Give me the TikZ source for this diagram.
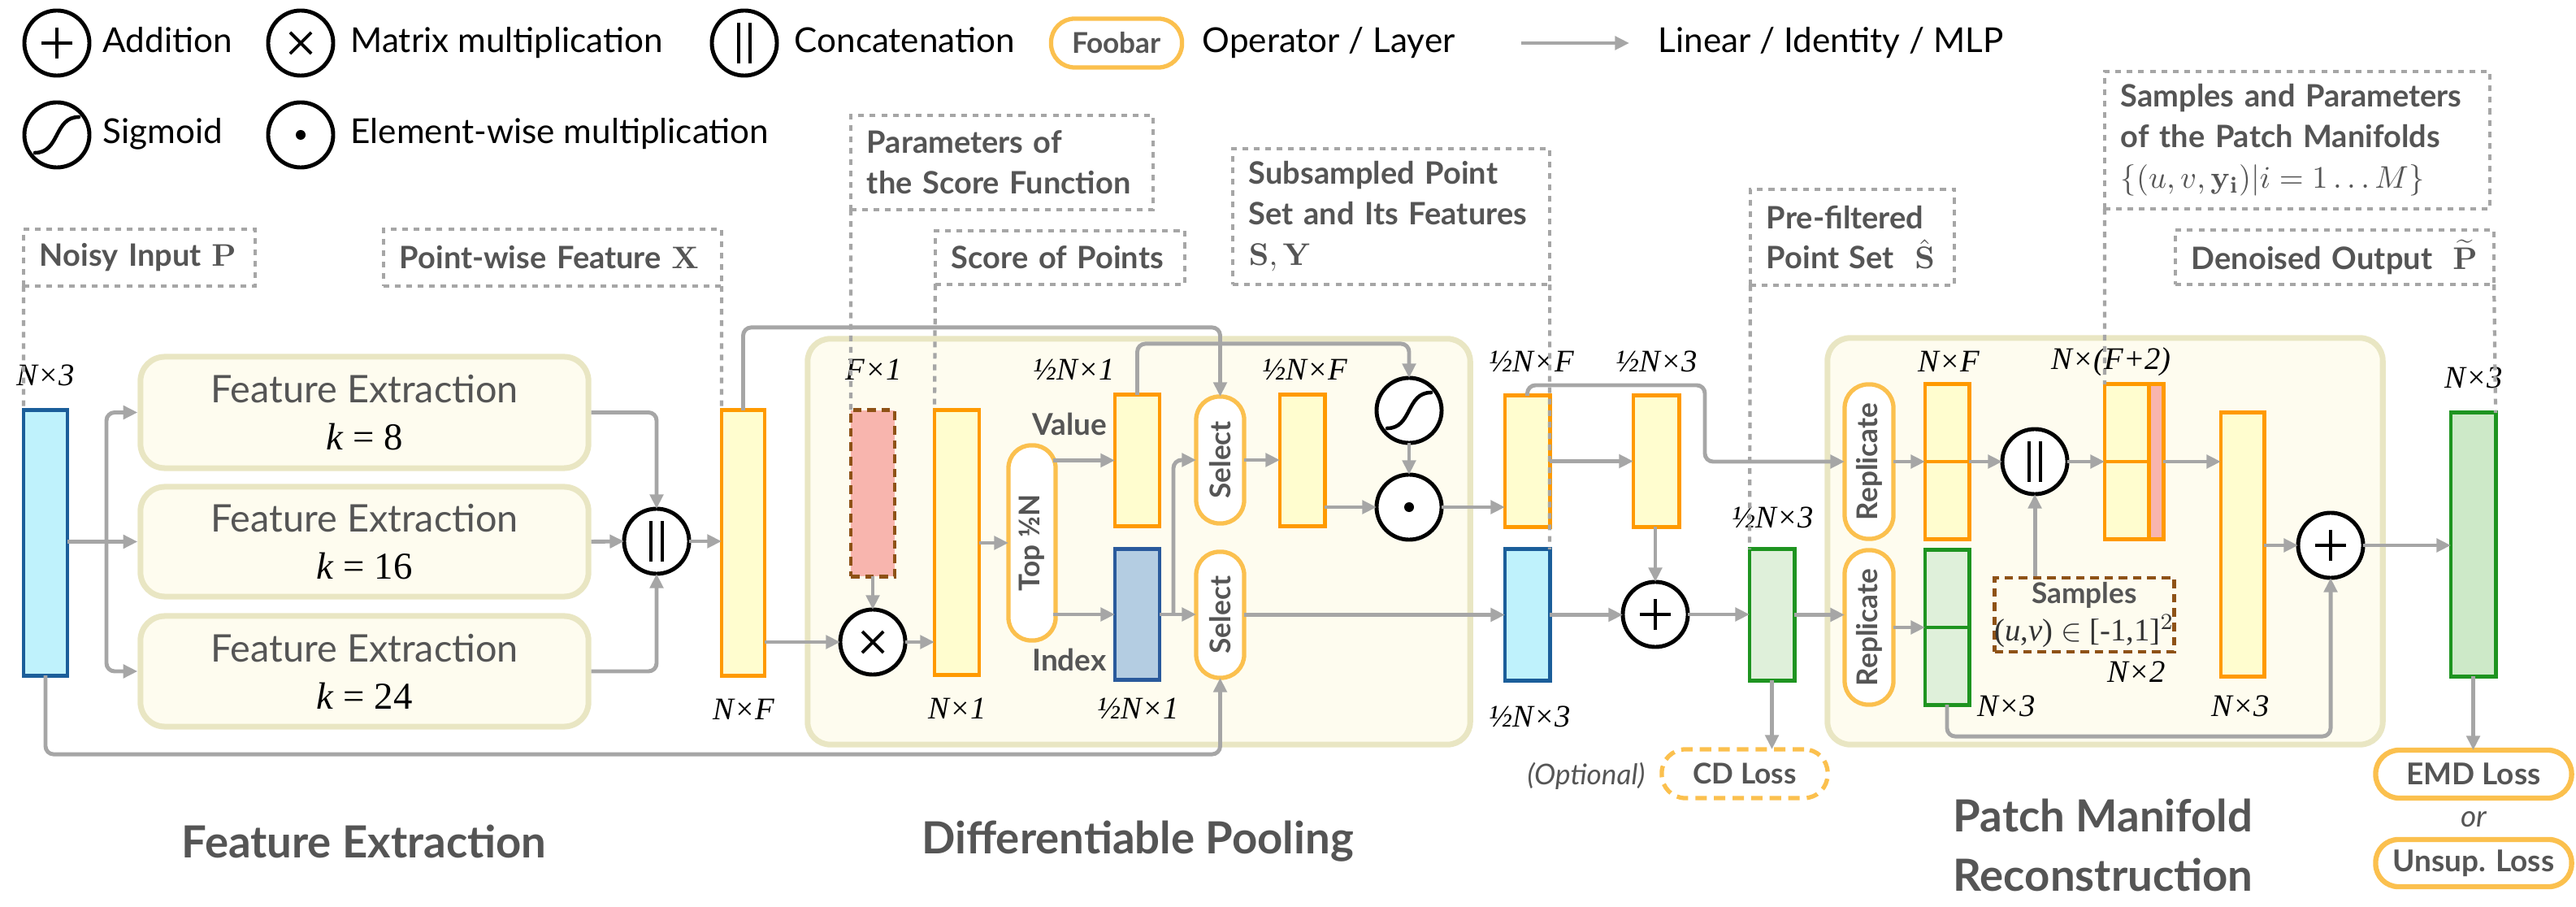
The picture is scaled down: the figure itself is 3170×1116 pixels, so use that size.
\documentclass[tikz,border=0pt]{standalone}
\usepackage[no-math]{fontspec}
\setmainfont{Lato}
\newfontfamily\lbl{Liberation Serif}
\usetikzlibrary{arrows.meta,calc}
\definecolor{wiregray}{HTML}{A6A6A6}
\definecolor{txtgray}{HTML}{555555}
\definecolor{frameF}{HTML}{FEFCEF}
\definecolor{frameD}{HTML}{E9E6C3}
\definecolor{orgD}{HTML}{FF9A00}
\definecolor{orgF}{HTML}{FFFDCF}
\definecolor{cyanF}{HTML}{BFF2FC}
\definecolor{cyanD}{HTML}{1B5E9A}
\definecolor{idxF}{HTML}{B4CDE2}
\definecolor{idxD}{HTML}{2A5A9C}
\definecolor{grnF}{HTML}{DFF0DA}
\definecolor{grnF2}{HTML}{CDE9C8}
\definecolor{grnD}{HTML}{1E9420}
\definecolor{redF}{HTML}{F8B5AE}
\definecolor{brnD}{HTML}{8E5216}
\definecolor{pillD}{HTML}{FBC04E}
\newcommand\lgfont{\fontsize{12}{14.5}\selectfont}
\newcommand\cbfont{\fontsize{10.8}{14.2}\selectfont\bfseries}
\newcommand\pillfont{\fontsize{10}{12}\selectfont\bfseries}
\newcommand\dimfont{\fontsize{11}{13}\selectfont\lbl\itshape}
\newcommand\fefont{\fontsize{13.3}{16.5}\selectfont}
\newcommand\secfont{\fontsize{15.5}{21}\selectfont\bfseries}
\newcommand\plussym[1]{\draw[sym] ([xshift=-0.19cm]#1.center) -- ([xshift=0.19cm]#1.center) ([yshift=-0.19cm]#1.center) -- ([yshift=0.19cm]#1.center);}
\newcommand\timessym[1]{\draw[sym,line width=1.1pt] ([shift={(-0.13cm,-0.13cm)}]#1.center) -- ([shift={(0.13cm,0.13cm)}]#1.center) ([shift={(-0.13cm,0.13cm)}]#1.center) -- ([shift={(0.13cm,-0.13cm)}]#1.center);}
\newcommand\catsym[1]{\draw[sym] ([shift={(-0.07cm,-0.25cm)}]#1.center) -- ([shift={(-0.07cm,0.25cm)}]#1.center) ([shift={(0.07cm,-0.25cm)}]#1.center) -- ([shift={(0.07cm,0.25cm)}]#1.center);}
\newcommand\sigsym[1]{\draw[sym,line cap=round] ([shift={(-0.27cm,-0.22cm)}]#1.center) .. controls ([shift={(0.04cm,-0.22cm)}]#1.center) and ([shift={(-0.04cm,0.22cm)}]#1.center) .. ([shift={(0.27cm,0.22cm)}]#1.center);}
\newcommand\dotsym[1]{\fill[black] (#1.center) circle[radius=0.06cm];}
\tikzset{
  wireln/.style={draw=wiregray, line width=1.4pt, rounded corners=0.1cm},
  arr/.style={wireln, -{Triangle[length=5pt,width=4.6pt]}},
  lead/.style={draw=wiregray, line width=1.2pt, dash pattern=on 2pt off 2pt},
  callout/.style={lead, rectangle, inner xsep=0.2cm, inner ysep=0pt, outer sep=0pt, align=left, font=\cbfont, text=txtgray},
  blkbase/.style={rectangle, inner sep=0pt, outer sep=0pt, line width=1.4pt},
  blkO/.style={blkbase, draw=orgD, fill=orgF},
  blkC/.style={blkbase, draw=cyanD, fill=cyanF},
  blkI/.style={blkbase, draw=idxD, fill=idxF},
  blkG/.style={blkbase, draw=grnD, fill=grnF},
  blkGG/.style={blkbase, draw=grnD, fill=grnF2},
  blkR/.style={blkbase, draw=brnD, fill=redF, dash pattern=on 3pt off 2pt},
  opc/.style={circle, draw=black, fill=white, line width=1.4pt, minimum size=0.8cm, inner sep=0pt, outer sep=0pt},
  sym/.style={draw=black, line width=1.3pt},
  pill/.style={rectangle, draw=pillD, fill=white, line width=1.5pt, inner sep=0pt, outer sep=0pt, font=\pillfont, text=txtgray},
  dimlbl/.style={font=\dimfont, text=black, inner sep=0pt},
  febox/.style={rectangle, draw=frameD, fill=frameF, line width=2pt, rounded corners=0.3cm, align=center, font=\fefont, text=txtgray, inner sep=0pt},
  stageframe/.style={rectangle, draw=frameD, fill=frameF, line width=2pt, rounded corners=0.28cm, inner sep=0pt},
  lgtext/.style={anchor=base west, font=\lgfont, text=black, inner sep=0pt},
  graytxt/.style={font=\pillfont, text=txtgray, inner sep=0pt},
  sectitle/.style={font=\secfont, text=txtgray, align=center, inner sep=0pt},
}
\begin{document}
\begin{tikzpicture}[x=0.01cm,y=-0.01cm]
\useasboundingbox (0,0) rectangle (3170,1116);
% ---------------- legend
\node[opc] (lgadd) at (70,53) {}; \plussym{lgadd}
\node[lgtext] (lgaddt) at (126,65) {Addition};
\node[opc] (lgmul) at (370,53) {}; \timessym{lgmul}
\node[lgtext] (lgmult) at (431,65) {Matrix multiplication};
\node[opc] (lgcat) at (916,53) {}; \catsym{lgcat}
\node[lgtext] (lgcatt) at (977,65) {Concatenation};
\node[pill, minimum width=1.61cm, minimum height=0.6cm, rounded corners=0.29cm] (lgfoo) at (1374,53) {Foobar};
\node[lgtext] (lgfoot) at (1479,65) {Operator / Layer};
\coordinate (lga1) at (1872,53);
\coordinate (lga2) at (2005,53);
\draw[arr] (lga1) -- (lga2);
\node[lgtext] (lgarrt) at (2040,65) {Linear / Identity / MLP};
\node[opc] (lgsig) at (70,166) {}; \sigsym{lgsig}
\node[lgtext] (lgsigt) at (126,177) {Sigmoid};
\node[opc] (lgdot) at (370,166) {}; \dotsym{lgdot}
\node[lgtext] (lgdott) at (431,177) {Element-wise multiplication};
% ---------------- stage frames
\node[stageframe, minimum width=8.15cm, minimum height=4.99cm] (poolf) at (1401.5,666.5) {};
\node[stageframe, minimum width=6.83cm, minimum height=5.0cm] (pmrf) at (2590.5,666) {};
% ---------------- feature extraction
\node[blkC, minimum width=0.54cm, minimum height=3.26cm] (inP) at (56,668) {};
\node[febox, minimum width=5.51cm, minimum height=1.37cm] (fe1) at (448.5,507.5) {Feature Extraction\\{\lbl\color{black}\textit{k} = 8}};
\node[febox, minimum width=5.51cm, minimum height=1.35cm] (fe2) at (448.5,666.5) {Feature Extraction\\{\lbl\color{black}\textit{k} = 16}};
\node[febox, minimum width=5.51cm, minimum height=1.36cm] (fe3) at (448.5,826) {Feature Extraction\\{\lbl\color{black}\textit{k} = 24}};
\node[opc] (cat1) at (808,666) {}; \catsym{cat1}
\node[blkO, minimum width=0.53cm, minimum height=3.26cm] (X) at (914.5,668) {};
% ---------------- differentiable pooling
\node[blkR, minimum width=0.54cm, minimum height=2.04cm] (param) at (1074,607) {};
\node[opc] (mul) at (1074,790) {}; \timessym{mul}
\node[blkO, minimum width=0.55cm, minimum height=3.25cm] (score) at (1177.5,667.5) {};
\node[pill, minimum width=0.58cm, minimum height=2.4cm, rounded corners=0.28cm] (topn) at (1270,668) {\rotatebox{90}{Top ½N}};
\node[blkO, minimum width=0.55cm, minimum height=1.61cm] (val) at (1399.5,566.5) {};
\node[blkI, minimum width=0.55cm, minimum height=1.6cm] (idx) at (1399.5,756) {};
\node[graytxt, font=\fontsize{10.5}{12}\selectfont\bfseries] (valt) at (1316,522) {Value};
\node[graytxt, font=\fontsize{10.5}{12}\selectfont\bfseries] (idxt) at (1316,812) {Index};
\node[pill, minimum width=0.59cm, minimum height=1.56cm, rounded corners=0.285cm] (sel1) at (1501.5,566) {\rotatebox{90}{Select}};
\node[pill, minimum width=0.59cm, minimum height=1.55cm, rounded corners=0.285cm] (sel2) at (1501.5,756.5) {\rotatebox{90}{Select}};
\node[blkO, minimum width=0.55cm, minimum height=1.61cm] (feat) at (1602.5,566.5) {};
\node[opc] (sig) at (1734,505) {}; \sigsym{sig}
\node[opc] (emul) at (1734,624) {}; \dotsym{emul}
\node[blkO, minimum width=0.55cm, minimum height=1.61cm] (Y) at (1879.5,567.5) {};
\node[blkC, minimum width=0.55cm, minimum height=1.61cm] (S) at (1879.5,756.5) {};
\node[blkO, minimum width=0.56cm, minimum height=1.61cm] (D) at (2038,567.5) {};
\node[opc] (add1) at (2037,756) {}; \plussym{add1}
\node[blkG, minimum width=0.55cm, minimum height=1.61cm] (Shat) at (2180.5,756.5) {};
\node[pill, dash pattern=on 4pt off 2.5pt, minimum width=2.04cm, minimum height=0.6cm, rounded corners=0.29cm] (cd) at (2147,952) {CD Loss};
\node[graytxt, font=\fontsize{10}{12}\selectfont\itshape] (opt) at (1952,955) {(Optional)};
% ---------------- patch manifold reconstruction
\node[pill, minimum width=0.6cm, minimum height=1.9cm, rounded corners=0.29cm] (rep1) at (2300,568) {\rotatebox{90}{Replicate}};
\node[pill, minimum width=0.6cm, minimum height=1.9cm, rounded corners=0.29cm] (rep2) at (2300,772) {\rotatebox{90}{Replicate}};
\node[blkO, minimum width=0.54cm, minimum height=1.9cm] (NF) at (2396,568) {};
\draw[orgD, line width=1.4pt] (NF.west) -- (NF.east);
\node[blkG, minimum width=0.54cm, minimum height=1.9cm] (N3) at (2396,772) {};
\draw[grnD, line width=1.4pt] (N3.west) -- (N3.east);
\node[opc] (cat2) at (2504,568) {}; \catsym{cat2}
\node[blkO, minimum width=0.72cm, minimum height=1.9cm] (NF2) at (2626,568) {};
\draw[draw=orgD, fill=redF, line width=1.4pt] ([xshift=-0.18cm]NF2.north east) rectangle (NF2.south east);
\draw[orgD, line width=1.4pt] (NF2.west) -- ([xshift=-0.18cm]NF2.east);
\node[rectangle, draw=brnD, fill=frameF, line width=1.3pt, dash pattern=on 3pt off 2pt, minimum width=1.94cm, minimum height=0.91cm, inner sep=0pt, align=center, font=\pillfont, text=txtgray] (samp) at (2565,756.5) {Samples\\[1pt]{\mdseries\fontsize{11}{12}\selectfont\lbl\color{black!80}(\textit{u},\textit{v})~$\in$~[-1,1]$^{2}$}};
\node[blkO, minimum width=0.53cm, minimum height=3.24cm] (N3y) at (2759.5,670) {};
\node[opc] (add2) at (2868,671) {}; \plussym{add2}
\node[blkGG, minimum width=0.55cm, minimum height=3.24cm] (out) at (3043.5,670) {};
\node[pill, line width=1.8pt, minimum width=2.41cm, minimum height=0.59cm, rounded corners=0.29cm, font=\fontsize{10.5}{12}\selectfont\bfseries] (emd) at (3044,952.5) {EMD Loss};
\node[graytxt, font=\fontsize{10.5}{12}\selectfont\itshape] (ort) at (3044,1008) {or};
\node[pill, line width=1.8pt, minimum width=2.41cm, minimum height=0.58cm, rounded corners=0.28cm, font=\fontsize{10.5}{12}\selectfont\bfseries] (unsup) at (3044,1062) {Unsup. Loss};
% ---------------- dimension labels
\node[dimlbl] (d1) at (56,462) {N×3};
\node[dimlbl] (d2) at (915,873) {N×F};
\node[dimlbl] (d3) at (1075,455) {F×1};
\node[dimlbl] (d4) at (1178,872) {N×1};
\node[dimlbl] (d5) at (1322,455) {½N×1};
\node[dimlbl] (d6) at (1401,872) {½N×1};
\node[dimlbl] (d7) at (1606,455) {½N×F};
\node[dimlbl] (d8) at (1885,445) {½N×F};
\node[dimlbl] (d9) at (2039,445) {½N×3};
\node[dimlbl] (d10) at (1883,882) {½N×3};
\node[dimlbl] (d11) at (2182,637) {½N×3};
\node[dimlbl] (d12) at (2398,445) {N×F};
\node[dimlbl] (d13) at (2598,445) {N×(F+2)};
\node[dimlbl] (d14) at (2469,869) {N×3};
\node[dimlbl] (d15) at (2629,827) {N×2};
\node[dimlbl] (d16) at (2757,869) {N×3};
\node[dimlbl] (d17) at (3044,465) {N×3};
% ---------------- section titles
\node[sectitle] (tfe) at (448,1035) {Feature Extraction};
\node[sectitle] (tdp) at (1400,1035) {Differentiable Pooling};
\node[sectitle] (tpm) at (2588,1040) {Patch Manifold\\Reconstruction};
% ---------------- wires
\draw[arr] (inP.east |- fe2.west) -- (fe2.west);
\coordinate (fesplit) at (131,667);
\draw[arr] (fesplit) |- (fe1.west);
\draw[arr] (fesplit) |- (fe3.west);
\draw[arr] (fe1.east) -| (cat1.north);
\draw[arr] (fe2.east) -- (cat1.west);
\draw[arr] (fe3.east) -| (cat1.south);
\draw[arr] (cat1.east) -- (cat1.east -| X.west);
\draw[arr] (X.north) -- ++(0,-102) -| (sel1.north);
\draw[arr] (X.east |- mul.west) -- (mul.west);
\draw[arr] (inP.south) -- ++(0,97) -| (sel2.south);
\draw[arr] (param.south) -- (mul.north);
\draw[arr] (mul.east) -- (mul.east -| score.west);
\draw[arr] (score.east |- topn.west) -- (topn.west);
\draw[arr] ([xshift=-1pt]topn.east |- val.west) -- (val.west);
\draw[arr] ([xshift=-1pt]topn.east |- idx.west) -- (idx.west);
\draw[arr] (idx.east) -- (idx.east -| sel2.west);
\coordinate (idxsplit) at (1444,756);
\draw[arr] (idxsplit) |- (sel1.west);
\draw[arr] (val.north) -- ++(0,-63) -| (sig.north);
\draw[arr] (sel1.east) -- (sel1.east -| feat.west);
\draw[arr] (feat.east |- emul.west) -- (emul.west);
\draw[arr] (sig.south) -- (emul.north);
\draw[arr] (emul.east) -- (emul.east -| Y.west);
\draw[arr] (sel2.east) -- (sel2.east -| S.west);
\draw[arr] (Y.east) -- (Y.east -| D.west);
\draw[arr] (add1.north |- D.south) -- (add1.north);
\draw[arr] (S.east) -- (S.east -| add1.west);
\draw[arr] (add1.east) -- (add1.east -| Shat.west);
\draw[arr] (Shat.south) -- (Shat.south |- cd.north);
\coordinate (ycorner) at (2098,474);
\draw[arr] (Y.north) |- (ycorner) |- (rep1.west);
\draw[arr] (Shat.east) -- (Shat.east -| rep2.west);
\draw[arr] (rep1.east) -- (rep1.east -| NF.west);
\draw[arr] (rep2.east) -- (rep2.east -| N3.west);
\draw[arr] (NF.east) -- (NF.east -| cat2.west);
\draw[arr] (cat2.south |- samp.north) -- (cat2.south);
\draw[arr] (cat2.east) -- (cat2.east -| NF2.west);
\draw[arr] (NF2.east) -- (NF2.east -| N3y.west);
\draw[arr] (N3y.east |- add2.west) -- (add2.west);
\draw[arr] (N3.south) -- ++(0,39) -| (add2.south);
\draw[arr] (add2.east) -- (add2.east -| out.west);
\draw[arr] (out.south) -- (out.south |- emd.north);
% ---------------- callouts
\node[callout, text width=2.45cm, minimum height=0.7cm] (cbP) at (171.5,317) {\mbox{Noisy Input~$\mathbf{P}$}};
\node[callout, text width=3.76cm, minimum height=0.7cm] (cbX) at (680,317) {\mbox{Point-wise Feature~$\mathbf{X}$}};
\node[callout, text width=3.32cm, minimum height=1.16cm] (cbParam) at (1233,200) {\mbox{Parameters of}\\\mbox{the Score Function}};
\node[callout, text width=2.67cm, minimum height=0.66cm] (cbScore) at (1304.5,317) {\mbox{Score of Points}};
\node[callout, text width=3.5cm, minimum height=1.67cm] (cbSub) at (1712,266.5) {\mbox{Subsampled Point}\\\mbox{Set and Its Features}\\$\mathbf{S},\mathbf{Y}$};
\node[callout, text width=2.11cm, minimum height=1.18cm] (cbPre) at (2279.5,292) {\mbox{Pre-filtered}\\\mbox{Point Set~~$\hat{\mathbf{S}}$}};
\node[callout, text width=4.34cm, minimum height=1.69cm] (cbSamp) at (2827,172.5) {\mbox{Samples and Parameters}\\\mbox{of the Patch Manifolds}\\$\{(u,v,\mathbf{y}_\mathbf{i})|i=1\ldots M\}$};
\node[callout, text width=3.52cm, minimum height=0.67cm] (cbOut) at (2873,316.5) {\mbox{Denoised Output~~$\widetilde{\mathbf{P}}$}};
\draw[lead] (cbP.south west) -- (inP.north west);
\draw[lead] (cbX.south east) -- (X.north west);
\draw[lead] (cbParam.south west) -- (param.north west);
\draw[lead] (cbScore.south west) -- (score.north west);
\draw[lead] (cbSub.south east) -- (S.north east);
\draw[lead] (cbPre.south west) -- (Shat.north west);
\draw[lead] (cbSamp.south west) -- (NF2.north west);
\draw[lead] (cbOut.south east) -- (out.north east);
\end{tikzpicture}
\end{document}
